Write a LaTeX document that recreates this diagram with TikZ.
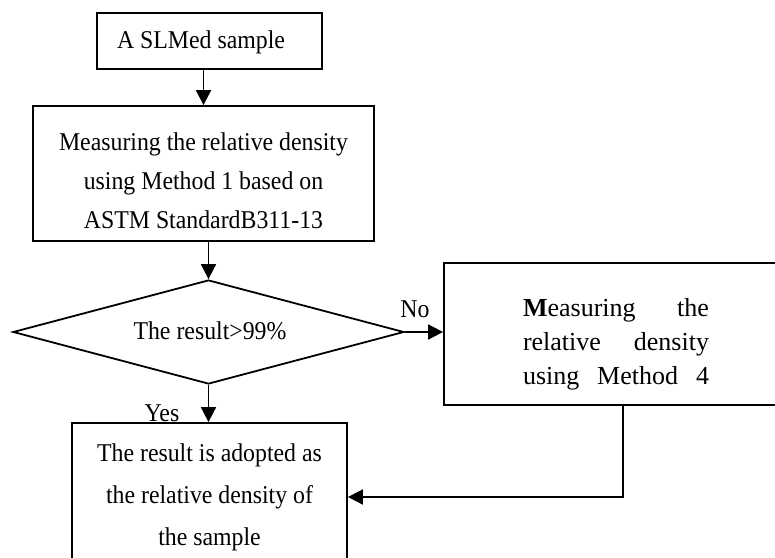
\documentclass[tikz,border=0pt]{standalone}
\usepackage{fontspec}
\setmainfont[FakeStretch=0.93]{Liberation Serif}
\newfontfamily\methodfont{Liberation Serif}
\usetikzlibrary{positioning,arrows.meta,shapes.geometric}

\begin{document}
\begin{tikzpicture}[x=0.5pt,y=-0.5pt,
  every node/.style={font=\fontsize{12.8}{14}\selectfont},
  box/.style={draw=black,line width=0.9pt,rectangle,inner sep=0pt},
  decision/.style={draw=black,line width=0.9pt,diamond,aspect=3.76,inner sep=0pt},
  txt/.style={align=center,inner sep=0pt},
  arr/.style={line width=0.9pt,-{Triangle[length=7.5pt,width=7.5pt]}}]
  \useasboundingbox (0,0) rectangle (775,557);
  % boxes
  \node[box,minimum width=112.5pt,minimum height=28pt] (sample) at (209.5,41) {};
  \node[txt] (sampletxt) at (201,42) {A SLMed sample};
  \node[box,minimum width=170.5pt,minimum height=67.5pt] (measure) at (203.5,173.5) {};
  \node[txt,font=\fontsize{12.8}{19.5}\selectfont] (measuretxt) at (203.5,181)
    {Measuring the relative density\\using Method 1 based on\\ASTM StandardB311-13};
  \node[decision,minimum width=195.5pt,minimum height=52pt] (check) at (208.5,332) {};
  \node[txt] (checktxt) at (210,331) {The result>99\%};
  \node[box,minimum width=168pt,minimum height=71pt] (method) at (612,334) {};
  \node[txt,align=left,font=\methodfont\fontsize{13}{17}\selectfont] (methodtxt) at (616,344)
    {\hbox to 93pt{\textbf{M}easuring\hfill the}\\
     \hbox to 93pt{relative\hfill density}\\
     \hbox to 93pt{using\hfill Method\hfill 4}};
  \node[box,minimum width=137.5pt,minimum height=69.5pt] (adopt) at (209.5,492.5) {};
  \node[txt,font=\fontsize{12.8}{21}\selectfont] (adopttxt) at (209.5,497)
    {The result is adopted as\\the relative density of\\the sample};
  % labels
  \node[txt] (no) at (415,309) {No};
  \node[txt] (yes) at (162,413) {Yes};
  % connectors
  \coordinate (bend) at (623,497);
  \draw[arr] (sample.south -| measure.north) -- (measure.north);
  \draw[arr] (measure.south -| check.north) -- (check.north);
  \draw[arr] (check.south) -- (check.south |- adopt.north);
  \draw[arr] (check.east) -- (check.east -| method.west);
  \draw[arr] (method.south -| bend) -- (bend) -- (bend -| adopt.east);
\end{tikzpicture}
\end{document}
